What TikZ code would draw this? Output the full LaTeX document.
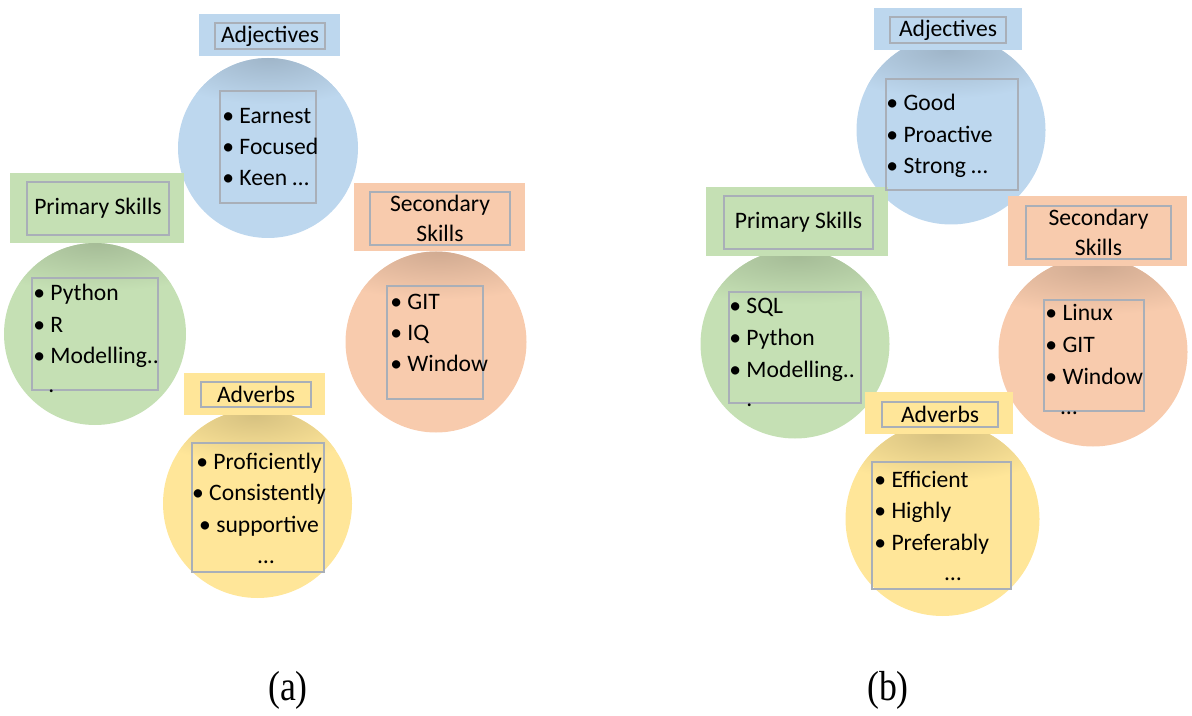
\documentclass[tikz,border=0pt]{standalone}
\usepackage{fontspec}
\setmainfont{Carlito}
\newfontfamily\capfont{Liberation Serif}

\definecolor{adjblue}{HTML}{BDD7EE}
\definecolor{skillgreen}{HTML}{C5E0B4}
\definecolor{skillorange}{HTML}{F8CBAD}
\definecolor{advyellow}{HTML}{FFE699}
\definecolor{framegray}{HTML}{A9AFB8}

\begin{document}
\begin{tikzpicture}[x=0.5pt,y=-0.5pt]
 \tikzset{bubble/.style={
    circle, fill=#1, draw=none, inner sep=0pt
  },
  tag/.style={
    rectangle, fill=#1, inner sep=0pt
  },
  frame/.style={
    rectangle, draw=framegray, line width=0.6pt, inner sep=0pt,
    align=center, font=\fontsize{11.8}{15}\selectfont
  },
  item/.style={
    inner sep=0pt, anchor=base west, font=\fontsize{11.8}{15}\selectfont
  },
  caption/.style={
    inner sep=0pt, xscale=0.85, transform shape,
    font=\capfont\fontsize{21}{24}\selectfont
  }
}
\useasboundingbox (0,0) rectangle (1192,716);

\node[bubble=adjblue, minimum size=90pt] (adjA) at (268,148) {};
\node[bubble=skillgreen, minimum size=91pt] (priA) at (95,334) {};
\node[bubble=skillorange, minimum size=90.5pt] (secA) at (436,342) {};
\node[bubble=advyellow, minimum size=94.5pt] (advA) at (257.5,503.5) {};

\node[bubble=adjblue, minimum size=94.5pt] (adjB) at (951,130) {};
\node[bubble=skillgreen, minimum size=94.5pt] (priB) at (795,344) {};
\node[bubble=skillorange, minimum size=94.5pt] (secB) at (1093,352) {};
\node[bubble=advyellow, minimum size=97pt] (advB) at (942.5,519) {};

\node[tag=adjblue, minimum width=70.5pt, minimum height=21pt] (adjA-tag) at (269.5,35) {};
\node[tag=skillgreen, minimum width=87pt, minimum height=35pt] (priA-tag) at (97,208) {};
\node[tag=skillorange, minimum width=85.5pt, minimum height=34pt] (secA-tag) at (439.5,217) {};
\node[tag=advyellow, minimum width=70.5pt, minimum height=21pt] (advA-tag) at (254.5,394) {};

\node[tag=adjblue, minimum width=74pt, minimum height=21pt] (adjB-tag) at (948,29) {};
\node[tag=skillgreen, minimum width=91pt, minimum height=34.5pt] (priB-tag) at (797,221.5) {};
\node[tag=skillorange, minimum width=89.5pt, minimum height=35pt] (secB-tag) at (1097.5,231) {};
\node[tag=advyellow, minimum width=74pt, minimum height=21pt] (advB-tag) at (939,413) {};

\foreach \t/\c/\r/\w in {adjA/adjblue/45/60, priA/skillgreen/45.5/72,
    secA/skillorange/45.25/72, advA/advyellow/47.25/60, adjB/adjblue/47.25/63,
    priB/skillgreen/47.25/76, secB/skillorange/47.25/76, advB/advyellow/48.5/63}
{
  \begin{scope}
    \clip (\t.center) circle[radius=\r pt];
    \clip ([xshift=-100pt]\t-tag.south) rectangle ([xshift=100pt,yshift=-40pt]\t-tag.south);
    \shade[inner color=\c!84!black, outer color=\c] (\t-tag.south) ellipse[x radius=\w pt, y radius=24pt];
  \end{scope}
}

\node[frame, minimum width=55pt, minimum height=13pt] (adjA-head) at (270,36) {Adjectives};
\node[frame, minimum width=71pt, minimum height=26.5pt] (priA-head) at (98,208.5) {Primary Skills};
\node[frame, minimum width=70pt, minimum height=26.5pt] (secA-head) at (440,218.5) {Secondary\\Skills};
\node[frame, minimum width=55pt, minimum height=12.5pt] (advA-head) at (256,394.5) {Adverbs};

\node[frame, minimum width=58pt, minimum height=13pt] (adjB-head) at (948,30) {Adjectives};
\node[frame, minimum width=74.5pt, minimum height=26.5pt] (priB-head) at (798.5,222.5) {Primary Skills};
\node[frame, minimum width=72.5pt, minimum height=26.5pt] (secB-head) at (1098.5,232.5) {Secondary\\Skills};
\node[frame, minimum width=58pt, minimum height=12.5pt] (advB-head) at (940,414.5) {Adverbs};

\node[frame, minimum width=48pt, minimum height=56pt] (adjA-list) at (268,147) {};
\node[frame, minimum width=63pt, minimum height=56pt] (priA-list) at (95,334) {};
\node[frame, minimum width=48pt, minimum height=56.5pt] (secA-list) at (435,342.5) {};
\node[frame, minimum width=66pt, minimum height=64.5pt] (advA-list) at (258,507.5) {};

\node[frame, minimum width=66pt, minimum height=55.5pt] (adjB-list) at (952,134.5) {};
\node[frame, minimum width=66pt, minimum height=55.5pt] (priB-list) at (795,347.5) {};
\node[frame, minimum width=50pt, minimum height=55.5pt] (secB-list) at (1094,355.5) {};
\node[frame, minimum width=69.5pt, minimum height=63.5pt] (advB-list) at (941.5,525.5) {};

\foreach \w [count=\i from 0] in {Earnest, Focused, Keen …}
  \node[item] (adjA-\i) at (222, 124+31*\i) {\textbullet~\w};
\foreach \w [count=\i from 0] in {Python, R, Modelling..}
  \node[item] (priA-\i) at (33, 300+32*\i) {\textbullet~\w};
\node[item] (priA-dot) at (48,392) {.};
\foreach \w [count=\i from 0] in {GIT, IQ, Window}
  \node[item] (secA-\i) at (390, 309+31*\i) {\textbullet~\w};
\foreach \w [count=\i from 0] in {Proficiently, Consistently, supportive}
  \node[item, anchor=base] (advA-\i) at (259, 469+31.5*\i) {\textbullet~\w};
\node[item, anchor=base] (advA-dots) at (266,563) {…};

\foreach \w [count=\i from 0] in {Good, Proactive, Strong …}
  \node[item] (adjB-\i) at (886, 111+31.5*\i) {\textbullet~\w};
\foreach \w [count=\i from 0] in {SQL, Python, Modelling..}
  \node[item] (priB-\i) at (729, 314+31.5*\i) {\textbullet~\w};
\node[item] (priB-dot) at (746,406) {.};
\foreach \w [count=\i from 0] in {Linux, GIT, Window}
  \node[item] (secB-\i) at (1045, 321+31.5*\i) {\textbullet~\w};
\node[item, anchor=base] (secB-dots) at (1069,414) {…};
\foreach \w [count=\i from 0] in {Efficient, Highly, Preferably}
  \node[item] (advB-\i) at (874, 487+31.5*\i) {\textbullet~\w};
\node[item, anchor=base] (advB-dots) at (953,580) {…};

\node[caption] (capA) at (288,690) {(a)};
\node[caption] (capB) at (888,690) {(b)};
\end{tikzpicture}
\end{document}
